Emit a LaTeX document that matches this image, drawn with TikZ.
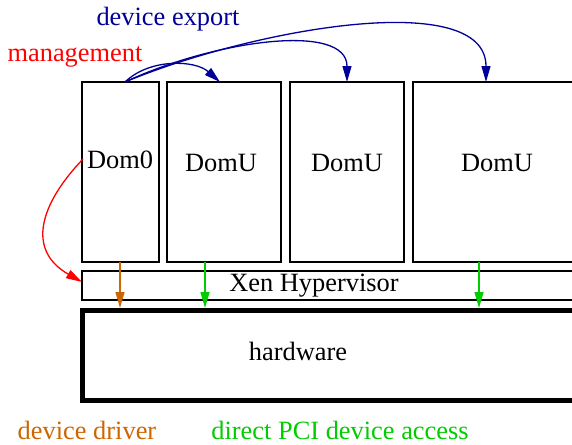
\documentclass[tikz,border=0pt]{standalone}
\usepackage{fontspec}
\setmainfont{Liberation Serif}
\usetikzlibrary{arrows.meta}
\definecolor{xblue}{HTML}{000099}
\definecolor{xorange}{HTML}{CC6600}
\definecolor{xgreen}{HTML}{00CC00}
\definecolor{xred}{HTML}{FF0000}
\begin{document}
\begin{tikzpicture}[x=1pt,y=-1pt,
  box/.style={draw=black,line width=2.5pt},
  lbl/.style={font=\fontsize{26.4}{30}\selectfont,inner sep=0pt},
  tip/.style={-{Triangle[length=16pt,width=9pt]},line width=1.3pt}]
\useasboundingbox (0,0) rectangle (572,444);
\draw[box] (82,82) rectangle (159,262);
\draw[box] (167,82) rectangle (281,262);
\draw[box] (290,82) rectangle (404,262);
\draw[box] (413,82) rectangle (590,262);
\draw[box] (82,271) rectangle (590,300);
\draw[draw=black,line width=5pt] (82.5,310.5) rectangle (590,400.5);
\node[lbl] (dom0) at (120,160) {Dom0};
\node[lbl] (du1) at (221,163) {DomU};
\node[lbl] (du2) at (347,163) {DomU};
\node[lbl] (du3) at (497,163) {DomU};
\node[lbl] (xen) at (314,286) {Xen Hypervisor};
\node[lbl] (hw) at (298,351) {hardware};
\node[lbl,text=xblue,anchor=base] (lexp) at (168,26) {device export};
\node[lbl,text=xred,anchor=base] (lman) at (75,61) {management};
\node[lbl,text=xorange,anchor=base] (ldrv) at (87,439) {device driver};
\node[lbl,text=xgreen,anchor=base] (lpci) at (340,439) {direct PCI device access};
\coordinate (s) at (125,82);
\coordinate (t1) at (220,82);
\coordinate (t2) at (347,82);
\coordinate (t3) at (486,82);
\draw[tip,xblue] (s) .. controls (150,58) and (195,60) .. (t1);
\draw[tip,xblue] (s) .. controls (215,40) and (347,22) .. (t2);
\draw[tip,xblue] (s) .. controls (255,28) and (486,-12) .. (t3);
\coordinate (r0) at (83,159);
\coordinate (r1) at (82,282);
\draw[tip,xred] (r0) .. controls (40,204) and (26,250) .. (r1);
\coordinate (o0) at (120,262);
\coordinate (o1) at (120,308);
\draw[tip,xorange] (o0) -- (o1);
\coordinate (g0) at (205,262);
\coordinate (g1) at (205,308);
\draw[tip,xgreen] (g0) -- (g1);
\coordinate (h0) at (479,262);
\coordinate (h1) at (479,308);
\draw[tip,xgreen] (h0) -- (h1);
\end{tikzpicture}
\end{document}
